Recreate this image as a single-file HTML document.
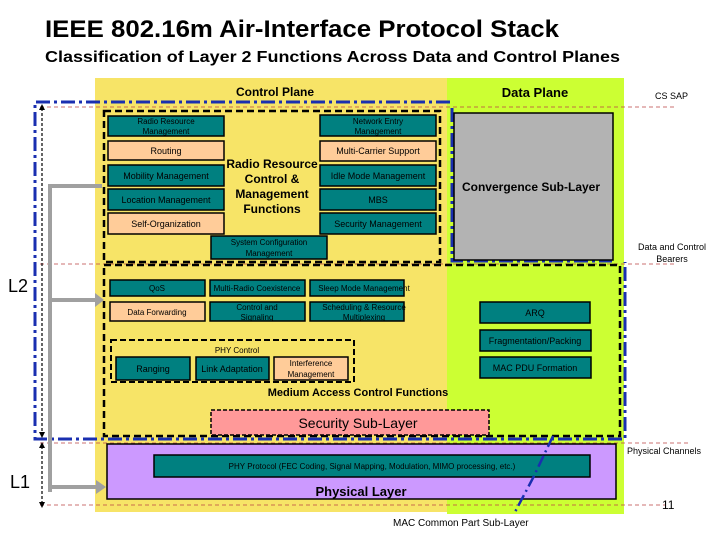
<!DOCTYPE html>
<html><head><meta charset="utf-8"><style>
html,body{margin:0;padding:0;background:#fff;width:720px;height:540px;overflow:hidden}
svg{display:block;font-family:"Liberation Sans",sans-serif}
</style></head><body>
<svg width="720" height="540" viewBox="0 0 720 540" xmlns="http://www.w3.org/2000/svg">
<text x="45" y="37" font-size="24" font-weight="bold" textLength="514" lengthAdjust="spacingAndGlyphs">IEEE 802.16m Air-Interface Protocol Stack</text>
<text x="45" y="62" font-size="16" font-weight="bold" textLength="575" lengthAdjust="spacingAndGlyphs">Classification of Layer 2 Functions Across Data and Control Planes</text>
<!-- planes -->
<rect x="95" y="78" width="352" height="434" fill="#f7e467"/>
<rect x="447" y="78" width="177" height="436" fill="#ccff33"/>
<text x="275" y="96" font-size="12" font-weight="bold" text-anchor="middle">Control Plane</text>
<text x="535" y="97" font-size="13" font-weight="bold" text-anchor="middle">Data Plane</text>
<text x="655" y="99" font-size="9">CS SAP</text>
<!-- red dashed lines -->
<g stroke="#b44" stroke-width="0.8" stroke-dasharray="4,3" fill="none">
<line x1="40" y1="107" x2="675" y2="107"/>
<line x1="40" y1="264" x2="675" y2="264"/>
<line x1="40" y1="443" x2="690" y2="443"/>
<line x1="40" y1="505" x2="665" y2="505"/>
</g>
<!-- blue dash-dot L2 -->
<path d="M450,102 L35,102 L35,439 L625,439 L625,262 M452,108 L452,261 L612,261" fill="none" stroke="#1a2fb0" stroke-width="3" stroke-dasharray="14,4,3,4"/>
<!-- vertical dotted arrows -->
<g stroke="#000" stroke-width="1.2" stroke-dasharray="3,2">
<line x1="42" y1="108" x2="42" y2="434"/>
<line x1="42" y1="446" x2="42" y2="504"/>
</g>
<path d="M39,110 L42,104 L45,110Z M39,432 L42,438 L45,432Z M39,448 L42,442 L45,448Z M39,502 L42,508 L45,502Z" fill="#000"/>
<text x="8" y="292" font-size="18">L2</text>
<text x="10" y="488" font-size="18">L1</text>
<!-- gray arrows -->
<path d="M102,186 L50,186 L50,492 M50,300 L96,300 M50,487 L98,487" fill="none" stroke="#a0a0a0" stroke-width="4"/>
<path d="M95,293 L104,300 L95,307Z M96,480 L106,487 L96,494Z" fill="#a0a0a0"/>
<!-- CS -->
<rect x="454" y="113" width="159" height="147" fill="#b3b3b3" stroke="#000" stroke-width="1.5"/>
<text x="531" y="191" font-size="12" font-weight="bold" text-anchor="middle">Convergence Sub-Layer</text>
<text x="672" y="250" font-size="9" text-anchor="middle">Data and Control</text>
<text x="672" y="262" font-size="9" text-anchor="middle">Bearers</text>
<!-- control dashed box -->
<rect x="104" y="111" width="336" height="151" fill="none" stroke="#000" stroke-width="2.5" stroke-dasharray="7,4"/>
<g stroke="#000" stroke-width="1.5">
<rect x="108" y="116" width="116" height="20" fill="#008080"/>
<rect x="108" y="141" width="116" height="19" fill="#ffcc99"/>
<rect x="108" y="165" width="116" height="21" fill="#008080"/>
<rect x="108" y="189" width="116" height="21" fill="#008080"/>
<rect x="108" y="213" width="116" height="21" fill="#ffcc99"/>
<rect x="320" y="115" width="116" height="21" fill="#008080"/>
<rect x="320" y="141" width="116" height="20" fill="#ffcc99"/>
<rect x="320" y="165" width="116" height="21" fill="#008080"/>
<rect x="320" y="189" width="116" height="21" fill="#008080"/>
<rect x="320" y="213" width="116" height="21" fill="#008080"/>
<rect x="211" y="236" width="116" height="23" fill="#008080"/>
</g>
<g font-size="9" text-anchor="middle">
<text x="166" y="124" font-size="8">Radio Resource</text>
<text x="166" y="134" font-size="8">Management</text>
<text x="166" y="154">Routing</text>
<text x="166" y="179">Mobility Management</text>
<text x="166" y="203">Location Management</text>
<text x="166" y="227">Self-Organization</text>
<text x="378" y="124" font-size="8">Network Entry</text>
<text x="378" y="134" font-size="8">Management</text>
<text x="378" y="154">Multi-Carrier Support</text>
<text x="378" y="179">Idle Mode Management</text>
<text x="378" y="203">MBS</text>
<text x="378" y="227">Security Management</text>
<text x="269" y="245" font-size="8">System Configuration</text>
<text x="269" y="256" font-size="8">Management</text>
</g>
<g font-size="12" font-weight="bold" text-anchor="middle">
<text x="272" y="168">Radio Resource</text>
<text x="272" y="183">Control &amp;</text>
<text x="272" y="198">Management</text>
<text x="272" y="213">Functions</text>
</g>
<!-- MAC dashed box -->
<rect x="104" y="265" width="516" height="171" fill="none" stroke="#000" stroke-width="2.5" stroke-dasharray="7,4"/>
<g stroke="#000" stroke-width="1.5">
<rect x="110" y="280" width="95" height="16" fill="#008080"/>
<rect x="210" y="280" width="95" height="16" fill="#008080"/>
<rect x="310" y="280" width="94" height="16" fill="#008080"/>
<rect x="110" y="302" width="95" height="19" fill="#ffcc99"/>
<rect x="210" y="302" width="95" height="19" fill="#008080"/>
<rect x="310" y="302" width="94" height="19" fill="#008080"/>
<rect x="116" y="357" width="74" height="23" fill="#008080"/>
<rect x="196" y="357" width="73" height="23" fill="#008080"/>
<rect x="274" y="357" width="74" height="23" fill="#ffcc99"/>
<rect x="480" y="302" width="110" height="21" fill="#008080"/>
<rect x="480" y="330" width="111" height="21" fill="#008080"/>
<rect x="480" y="357" width="111" height="21" fill="#008080"/>
</g>
<rect x="111" y="340" width="243" height="42" fill="none" stroke="#000" stroke-width="2" stroke-dasharray="6,3"/>
<g font-size="8" text-anchor="middle">
<text x="157" y="291">QoS</text>
<text x="257" y="291">Multi-Radio Coexistence</text>
<text x="364" y="291">Sleep Mode Management</text>
<text x="157" y="315">Data Forwarding</text>
<text x="257" y="310">Control and</text>
<text x="257" y="320">Signaling</text>
<text x="364" y="310">Scheduling &amp; Resource</text>
<text x="364" y="320">Multiplexing</text>
<text x="237" y="353">PHY Control</text>
<text x="153" y="372" font-size="9">Ranging</text>
<text x="232" y="372" font-size="9">Link Adaptation</text>
<text x="311" y="366">Interference</text>
<text x="311" y="377">Management</text>
<text x="535" y="316" font-size="9">ARQ</text>
<text x="535" y="344" font-size="9">Fragmentation/Packing</text>
<text x="535" y="371" font-size="9">MAC PDU Formation</text>
</g>
<text x="358" y="396" font-size="11" font-weight="bold" text-anchor="middle">Medium Access Control Functions</text>
<rect x="211" y="410" width="278" height="25" fill="#ff9999" stroke="#000" stroke-width="1.5" stroke-dasharray="4,2"/>
<text x="358" y="428" font-size="14" text-anchor="middle">Security Sub-Layer</text>
<!-- PHY -->
<rect x="107" y="444" width="509" height="55" fill="#cc99ff" stroke="#000" stroke-width="1.5"/>
<rect x="154" y="455" width="436" height="22" fill="#008080" stroke="#000" stroke-width="1.5"/>
<text x="372" y="469" font-size="8" text-anchor="middle">PHY Protocol (FEC Coding, Signal Mapping, Modulation, MIMO processing, etc.)</text>
<text x="361" y="496" font-size="13" font-weight="bold" text-anchor="middle">Physical Layer</text>
<path d="M553,436 L533,478 L515,512" fill="none" stroke="#1a2fb0" stroke-width="2.5" stroke-dasharray="12,4,2,4"/>
<text x="627" y="454" font-size="9">Physical Channels</text>
<text x="662" y="509" font-size="12">11</text>
<text x="393" y="526" font-size="10">MAC Common Part Sub-Layer</text>
</svg>
</body></html>
